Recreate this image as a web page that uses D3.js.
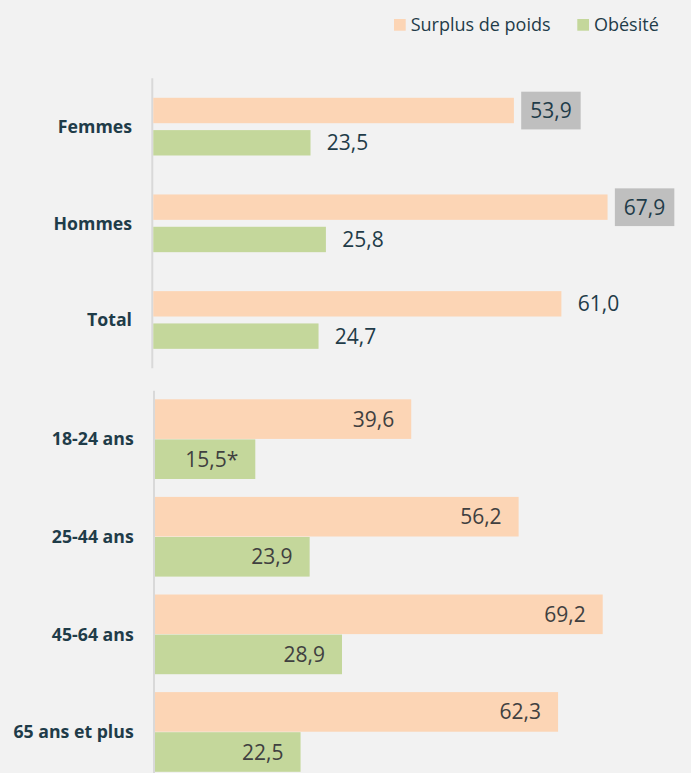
<!DOCTYPE html>
<html>
<head>
<meta charset="utf-8">
<script src="https://cdn.jsdelivr.net/npm/d3@7"></script>
<style>
  html, body { margin: 0; padding: 0; background: #f2f2f2; }
  svg { display: block; font-family: "Open Sans", sans-serif; }
</style>
</head>
<body>
<svg id="chart"></svg>
<script>
// Panel 1: by sex
const sexes = ["Femmes", "Hommes", "Total"];
const surplusSex = [53.9, 67.9, 61.0];
const obesiteSex = [23.5, 25.8, 24.7];
const boxedSex = [true, true, false];   // grey highlight on the surplus label

// Panel 2: by age
const ages = ["18-24 ans", "25-44 ans", "45-64 ans", "65 ans et plus"];
const surplusAge = [39.6, 56.2, 69.2, 62.3];
const obesiteAge = [15.5, 23.9, 28.9, 22.5];
const notesAge = ["*", "", "", ""];     // only on the obesity value

const seriesNames = ["Surplus de poids", "Obésité"];
const seriesKeys = ["surplus", "obesite"];

(function () {
    const W = 691, H = 773;
    const colors = { surplus: "#fcd5b5", obesite: "#c4d79b" };
    const darkText = "#1f3c49";
    const greyText = "#404040";

    const fr = d3.formatLocale({ decimal: ",", thousands: " ", grouping: [3], currency: ["", " €"] });
    const fmt = fr.format(".1f");

    const svg = d3.select("#chart").attr("width", W).attr("height", H);
    svg.append("rect").attr("width", W).attr("height", H).attr("fill", "#f2f2f2");

    // legend
    const legend = svg.append("g");
    const legX = [394, 577.3];
    seriesKeys.forEach((k, i) => {
        legend.append("rect")
            .attr("x", legX[i]).attr("y", 19)
            .attr("width", 11.7).attr("height", 11.7)
            .attr("fill", colors[k]);
        legend.append("text")
            .attr("x", legX[i] + 16.7).attr("y", 25)
            .attr("dy", "0.35em")
            .attr("font-size", "18px")
            .attr("fill", darkText)
            .text(seriesNames[i]);
    });

    function panel(cfg) {
        const rows = cfg.cats.map((c, i) => ({
            cat: c,
            surplus: cfg.surplus[i],
            obesite: cfg.obesite[i],
            boxed: cfg.boxed ? cfg.boxed[i] : false,
            note: cfg.notes ? cfg.notes[i] : ""
        }));

        const y = d3.scaleBand().domain(cfg.cats).range(cfg.yRange).padding(0);
        const yi = d3.scaleBand().domain(seriesKeys)
            .range([cfg.inner[0], cfg.inner[1]]).paddingInner(cfg.gap);
        const x = d3.scaleLinear().domain([0, 100]).range([cfg.x0, cfg.x0 + 100 * cfg.k]);

        const g = svg.append("g");

        // axis line
        g.append("line")
            .attr("x1", cfg.axisX).attr("x2", cfg.axisX)
            .attr("y1", cfg.yRange[0]).attr("y2", cfg.yRange[1])
            .attr("stroke", "#d9d9d9").attr("stroke-width", 2);

        // category labels
        g.selectAll("text.cat")
            .data(rows)
            .join("text")
            .attr("class", "cat")
            .attr("x", cfg.labelX)
            .attr("y", d => y(d.cat) + (cfg.inner[0] + cfg.inner[1]) / 2)
            .attr("dy", "0.35em")
            .attr("text-anchor", "end")
            .attr("font-size", "17.7px")
            .attr("font-weight", "bold")
            .attr("fill", darkText)
            .text(d => d.cat);

        const bars = rows.flatMap(r => seriesKeys.map(k => ({
            cat: r.cat, key: k, value: r[k],
            boxed: k === "surplus" && r.boxed,
            note: k === "obesite" ? r.note : ""
        })));

        g.selectAll("rect.bar")
            .data(bars)
            .join("rect")
            .attr("class", "bar")
            .attr("x", x(0))
            .attr("y", d => y(d.cat) + yi(d.key))
            .attr("width", d => x(d.value) - x(0))
            .attr("height", yi.bandwidth())
            .attr("fill", d => colors[d.key]);

        const lbl = g.selectAll("g.lbl")
            .data(bars)
            .join("g")
            .attr("class", "lbl");

        const txt = lbl.append("text")
            .attr("x", d => cfg.inside ? x(d.value) - 17 : x(d.value) + 16.3)
            .attr("y", d => y(d.cat) + yi(d.key) + yi.bandwidth() / 2)
            .attr("dy", "0.36em")
            .attr("text-anchor", cfg.inside ? "end" : "start")
            .attr("font-size", "21px")
            .attr("fill", cfg.inside ? greyText : darkText)
            .text(d => fmt(d.value) + d.note);

        // grey boxes behind highlighted labels
        txt.each(function (d) {
            if (!d.boxed) return;
            const bb = this.getBBox();
            const cy = y(d.cat) + yi(d.key) + yi.bandwidth() / 2;
            d3.select(this.parentNode).insert("rect", "text")
                .attr("x", bb.x - 9).attr("y", cy - 18.8)
                .attr("width", bb.width + 18).attr("height", 37.7)
                .attr("fill", "#bfbfbf");
        });
    }

    panel({
        cats: sexes, surplus: surplusSex, obesite: obesiteSex, boxed: boxedSex,
        yRange: [78.3, 368.3], inner: [19.5, 77.2], gap: 0.214,
        x0: 153.3, k: 6.69, axisX: 152.3, labelX: 132, inside: false
    });

    panel({
        cats: ages, surplus: surplusAge, obesite: obesiteAge, notes: notesAge,
        yRange: [390.7, 781.1], inner: [8.6, 88.3], gap: 0.012,
        x0: 155, k: 6.47, axisX: 154, labelX: 133.7, inside: true
    });
})();
</script>
</body>
</html>
